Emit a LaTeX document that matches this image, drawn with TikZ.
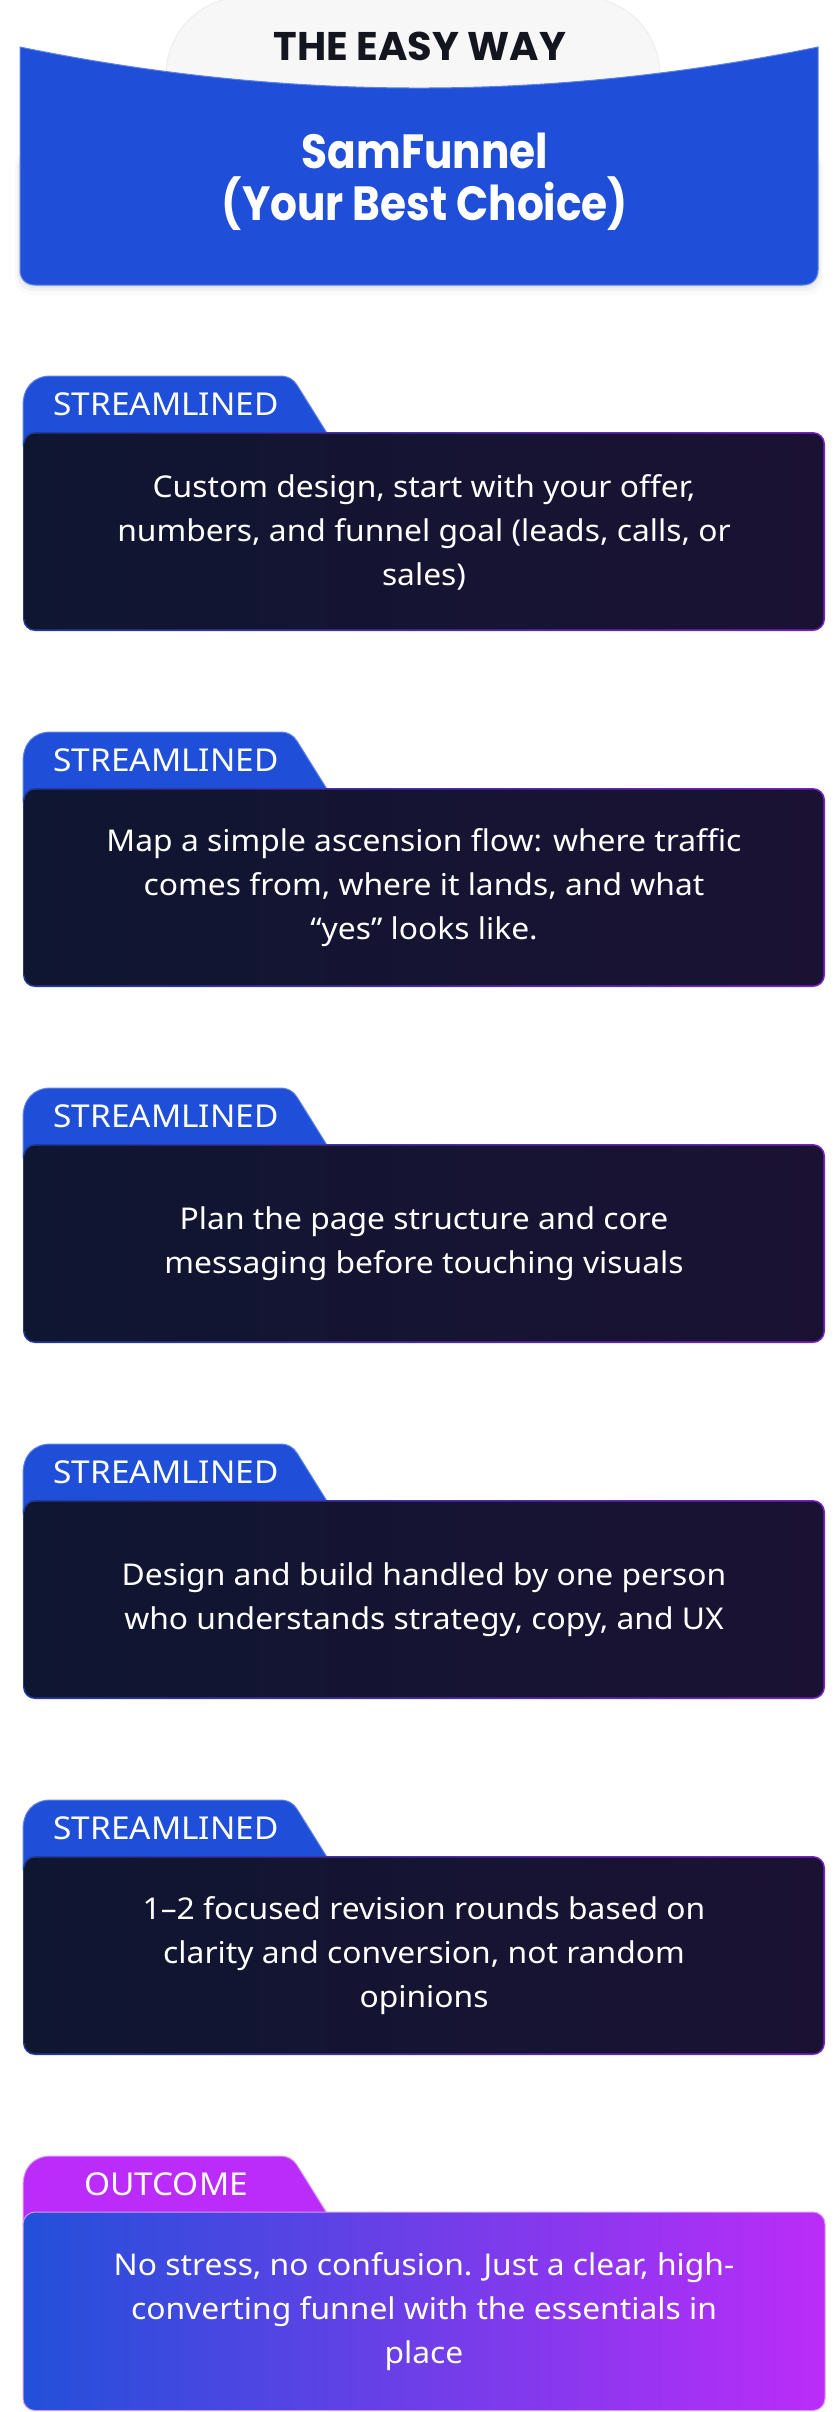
\documentclass[tikz,border=0pt]{standalone}
\usepackage{fontspec}
\usepackage{graphicx}
\setmainfont{Noto Sans}[FakeStretch=1.06]
\newfontfamily\hdrfont{Poppins}
\definecolor{hblue}{HTML}{1F4FD8}
\definecolor{hblueedge}{HTML}{5E83E6}
\definecolor{greytab}{HTML}{F7F7F8}
\definecolor{greyedge}{HTML}{ECECEF}
\definecolor{darkL}{HTML}{0F1631}
\definecolor{darkR}{HTML}{1B1233}
\definecolor{bordL}{HTML}{1E3A9A}
\definecolor{bordR}{HTML}{7A22C4}
\definecolor{purp}{HTML}{BB2BFA}
\definecolor{purpedge}{HTML}{D79CF8}
\definecolor{outL}{HTML}{2250D9}
\definecolor{outR}{HTML}{BC2CF9}
\definecolor{ink}{HTML}{14161F}
\tikzset{
  tablabel/.style={text=white, font=\fontsize{31.5}{36}\selectfont, inner sep=0pt},
  bodytext/.style={text=white, font=\fontsize{30}{44}\selectfont, align=center, inner sep=0pt},
  hdrsmall/.style={text=ink, font=\hdrfont\bfseries\fontsize{40}{48}\selectfont, inner sep=0pt},
  hdrbig/.style={text=white, font=\hdrfont\bfseries\fontsize{48}{56}\selectfont, inner sep=0pt},
}
% #1 box top y, #2 tab fill, #3 tab edge
\newcommand\mytab[3]{%
  \fill[#2, draw=#3, line width=1pt] (23,#1+14) -- (23,#1-26) .. controls (23,#1-44) and (33,#1-56) .. (51,#1-56) -- (280,#1-56) .. controls (288,#1-56) and (293,#1-53) .. (297,#1-47) -- (335,#1+14) -- cycle;}
\newcommand\darkbox[1]{%
  \shade[left color=bordL, right color=bordR, rounded corners=12pt] (23,#1) rectangle (825,#1+199);
  \shade[left color=darkL, right color=darkR, rounded corners=10.5pt] (24.6,#1+1.6) rectangle (823.4,#1+197.4);}
\begin{document}
\begin{tikzpicture}[x=1pt,y=-1pt]
\useasboundingbox (0,0) rectangle (840,2412);
\fill[white] (0,0) rectangle (840,2412);
% header grey tab
\fill[greytab, draw=greyedge, line width=0.8pt, rounded corners=78pt] (166,-3) rectangle (660,200);
% shadow under blue header
\foreach \i/\o in {1/0.05,3/0.04,6/0.03,10/0.02} {
  \fill[black, opacity=\o, rounded corners=16pt] (20-\i*0.5,150) rectangle (818+\i*0.5,285+\i);
}
\fill[hblue, draw=hblueedge, line width=1pt] (20,47) .. controls (286.7,101.7) and (551.3,101.7) .. (818,47) -- (818,270) .. controls (818,279) and (812,285) .. (803,285) -- (35,285) .. controls (26,285) and (20,279) .. (20,270) -- cycle;
\node[hdrsmall, anchor=base] (easy) at (420,60) {THE EASY WAY};
\node[hdrbig, anchor=base] (sam) at (425,168) {\scalebox{0.88}[1]{SamFunnel}};
\node[hdrbig, anchor=base] (best) at (425,220) {\scalebox{0.88}[1]{(Your Best Choice)}};
% cards
\mytab{432}{hblue}{hblueedge}
\darkbox{432}
\node[tablabel] (l1) at (166,404) {STREAMLINED};
\node[bodytext] (b1) at (424,532) {Custom design, start with your offer,\\numbers, and funnel goal (leads, calls, or\\sales)};
\mytab{788}{hblue}{hblueedge}
\darkbox{788}
\node[tablabel] (l2) at (166,760) {STREAMLINED};
\node[bodytext] (b2) at (424,888) {Map a simple ascension flow: where traffic\\comes from, where it lands, and what\\“yes” looks like.};
\mytab{1144}{hblue}{hblueedge}
\darkbox{1144}
\node[tablabel] (l3) at (166,1116) {STREAMLINED};
\node[bodytext] (b3) at (424,1244) {Plan the page structure and core\\messaging before touching visuals};
\mytab{1500}{hblue}{hblueedge}
\darkbox{1500}
\node[tablabel] (l4) at (166,1472) {STREAMLINED};
\node[bodytext] (b4) at (424,1600) {Design and build handled by one person\\who understands strategy, copy, and UX};
\mytab{1856}{hblue}{hblueedge}
\darkbox{1856}
\node[tablabel] (l5) at (166,1828) {STREAMLINED};
\node[bodytext] (b5) at (424,1956) {1–2 focused revision rounds based on\\clarity and conversion, not random\\opinions};
% outcome card
\mytab{2212}{purp}{purpedge}
\shade[left color=outL, right color=outR, draw=purpedge, line width=1pt, rounded corners=12pt] (23,2212) rectangle (825,2410.5);
\node[tablabel] (l6) at (166,2184) {OUTCOME};
\node[bodytext] (b6) at (424,2312) {No stress, no confusion. Just a clear, high-\\converting funnel with the essentials in\\place};
\end{tikzpicture}
\end{document}
